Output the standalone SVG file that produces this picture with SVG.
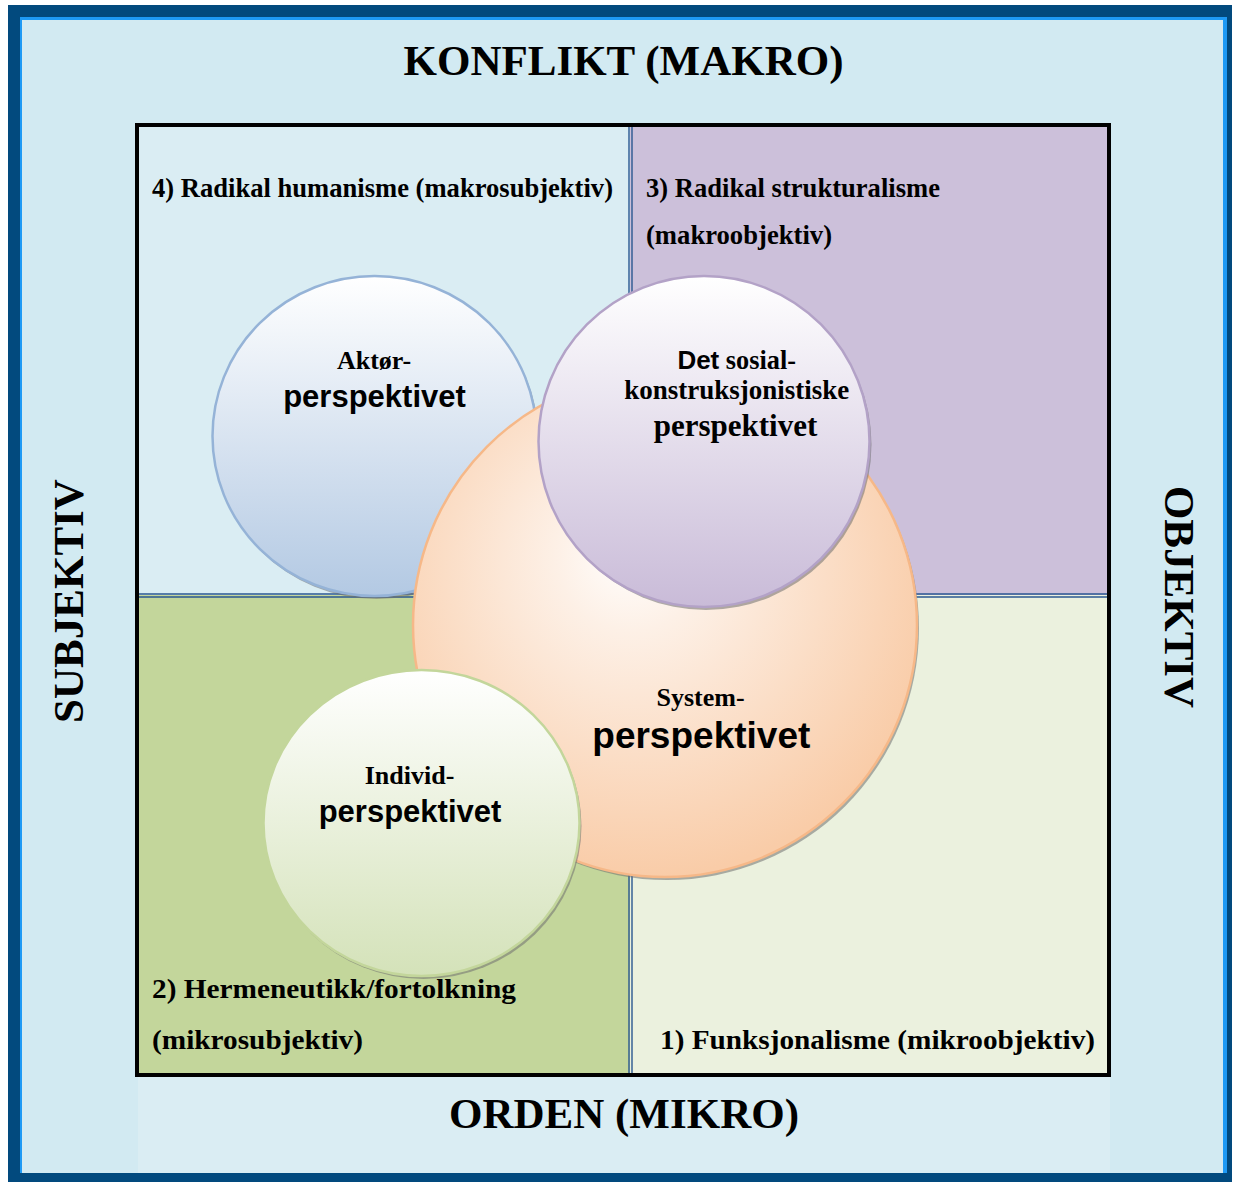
<svg xmlns="http://www.w3.org/2000/svg" width="1235" height="1182" viewBox="0 0 1235 1182">
<defs>
<style>
.serif{font-family:"Liberation Serif","Times New Roman",serif;font-weight:bold;fill:#000}
.sans{font-family:"Liberation Sans",Arial,sans-serif;font-weight:bold;fill:#000}
.axis{font-size:43px}
.ql{font-size:28px}
.c1{font-size:26px}
.div{stroke:#2a5790;stroke-width:1.4;fill:none}
.shadow{fill:#6f6f6f;opacity:.55}
</style>
<linearGradient id="gBlue" x1="0" y1="0" x2="0" y2="1">
<stop offset="0" stop-color="#ffffff"/><stop offset="1" stop-color="#b3c9e3"/>
</linearGradient>
<linearGradient id="gPurple" x1="0" y1="0" x2="0" y2="1">
<stop offset="0" stop-color="#ffffff"/><stop offset="1" stop-color="#c9bbd8"/>
</linearGradient>
<linearGradient id="gGreen" x1="0" y1="0" x2="0" y2="1">
<stop offset="0" stop-color="#ffffff"/><stop offset="1" stop-color="#d4e2b9"/>
</linearGradient>
<radialGradient id="gOrange" cx="0.45" cy="0.4" r="0.6" fx="0.43" fy="0.35">
<stop offset="0" stop-color="#ffffff"/><stop offset="0.25" stop-color="#fdf0e6"/><stop offset="1" stop-color="#f9cca8"/>
</radialGradient>
</defs>

<g id="frame">
<rect x="8" y="5" width="1224" height="1177" fill="#024a7e"/>
<rect x="20" y="17" width="1207" height="1156" fill="#1e9af5"/>
<rect x="22" y="20" width="1201" height="1153" fill="#d2eaf2"/>
<rect x="138" y="1076" width="972" height="97" fill="#daedf3"/>
</g>

<g id="quadrants">
<rect x="137" y="125" width="493" height="470" fill="#daedf3"/>
<rect x="630" y="125" width="480" height="470" fill="#ccc0da"/>
<rect x="137" y="595" width="493" height="480" fill="#c3d69b"/>
<rect x="630" y="595" width="480" height="480" fill="#ebf1de"/>
</g>

<g id="connectors">
<line class="div" x1="629" y1="127" x2="629" y2="1073"/>
<line class="div" x1="632" y1="127" x2="632" y2="1073"/>
<line class="div" x1="139" y1="594" x2="1107" y2="594"/>
<line class="div" x1="139" y1="597" x2="1107" y2="597"/>
</g>

<rect id="table-border" x="137" y="125" width="972" height="950" fill="none" stroke="#000" stroke-width="4"/>

<g id="labels">
<text class="serif axis" x="623.5" y="75" text-anchor="middle">KONFLIKT (MAKRO)</text>
<text class="serif axis" x="624" y="1128" text-anchor="middle">ORDEN (MIKRO)</text>
<text class="serif axis" transform="translate(83,601) rotate(-90)" text-anchor="middle">SUBJEKTIV</text>
<text class="serif axis" transform="translate(1165,597) rotate(90)" text-anchor="middle">OBJEKTIV</text>
<text class="serif ql" x="152" y="197" textLength="461" lengthAdjust="spacingAndGlyphs">4) Radikal humanisme (makrosubjektiv)</text>
<text class="serif ql" x="646" y="197" textLength="294" lengthAdjust="spacingAndGlyphs">3) Radikal strukturalisme</text>
<text class="serif ql" x="646" y="244" textLength="186" lengthAdjust="spacingAndGlyphs">(makroobjektiv)</text>
<text class="serif ql" x="152" y="998" textLength="364" lengthAdjust="spacingAndGlyphs">2) Hermeneutikk/fortolkning</text>
<text class="serif ql" x="152" y="1049" textLength="211" lengthAdjust="spacingAndGlyphs">(mikrosubjektiv)</text>
<text class="serif ql" x="660" y="1049" textLength="435" lengthAdjust="spacingAndGlyphs">1) Funksjonalisme (mikroobjektiv)</text>
</g>

<g id="node-aktor">
<ellipse class="shadow" cx="376.5" cy="439" rx="162" ry="160"/>
<ellipse cx="374.5" cy="436" rx="162" ry="160" fill="url(#gBlue)" stroke="#95b3d7" stroke-width="2.5"/>
<text class="serif c1" x="374" y="369" text-anchor="middle">Aktør-</text>
<text class="sans" font-size="31" x="374.5" y="407" text-anchor="middle">perspektivet</text>
</g>

<g id="node-system">
<circle class="shadow" cx="667" cy="628" r="252"/>
<circle cx="665" cy="625" r="252" fill="url(#gOrange)" stroke="#f6b888" stroke-width="2.5"/>
<text class="serif c1" x="700.5" y="706" text-anchor="middle">System-</text>
<text class="sans" font-size="37" x="701.3" y="748" text-anchor="middle">perspektivet</text>
</g>

<g id="node-sosial">
<circle class="shadow" cx="706" cy="444.5" r="165.5"/>
<circle cx="704" cy="441.5" r="165.5" fill="url(#gPurple)" stroke="#b3a2c7" stroke-width="2.5"/>
<text x="736.7" y="369" text-anchor="middle"><tspan class="sans" font-size="26">Det</tspan><tspan class="serif" font-size="26.3"> sosial-</tspan></text>
<text class="serif" font-size="27" x="736.8" y="399" text-anchor="middle">konstruksjonistiske</text>
<text class="serif" font-size="31" x="735.5" y="436" text-anchor="middle">perspektivet</text>
</g>

<g id="node-individ">
<ellipse class="shadow" cx="423.5" cy="826" rx="158" ry="153"/>
<ellipse cx="421.5" cy="823" rx="158" ry="153" fill="url(#gGreen)" stroke="#c3d69b" stroke-width="2.5"/>
<text class="serif c1" x="409.5" y="784" text-anchor="middle">Individ-</text>
<text class="sans" font-size="31" x="410" y="822" text-anchor="middle">perspektivet</text>
</g>
</svg>
